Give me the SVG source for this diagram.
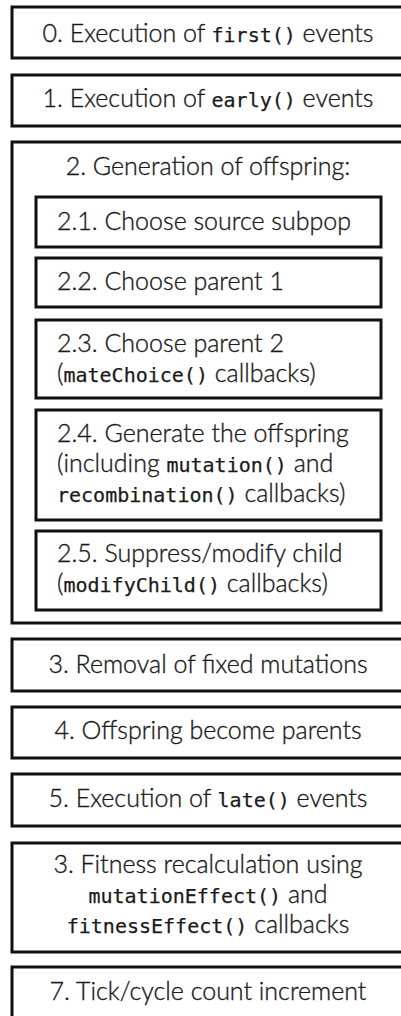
<svg xmlns="http://www.w3.org/2000/svg" width="401" height="1016" viewBox="0 0 401 1016">
<style>
rect{fill:#fff;stroke:#111;stroke-width:3}
text{font-family:Lato,"Open Sans",sans-serif;font-size:25px;font-weight:300;fill:#1a1a1a;stroke:#1a1a1a;stroke-width:0.35}
.c{text-anchor:middle}
.m{font-family:"DejaVu Sans Mono",monospace;font-size:20px;font-weight:400;stroke-width:0.25}
</style>
<rect x="0" y="0" width="401" height="1016" style="stroke:none"/>
<g id="n0"><rect x="12" y="7" width="394" height="51"/><text class="c" x="208" y="42">0. Execution of <tspan class="m">first()</tspan> events</text></g>
<g id="n1"><rect x="12" y="75" width="394" height="51"/><text class="c" x="208" y="107">1. Execution of <tspan class="m">early()</tspan> events</text></g>
<g id="n2"><rect x="12" y="142" width="394" height="481"/><text class="c" x="208" y="175">2. Generation of offspring:</text></g>
<g id="n21"><rect x="36" y="197" width="345" height="50"/><text x="57" y="230">2.1. Choose source subpop</text></g>
<g id="n22"><rect x="36" y="258" width="345" height="49"/><text x="57" y="290">2.2. Choose parent 1</text></g>
<g id="n23"><rect x="36" y="320" width="345" height="78"/><text x="57" y="352">2.3. Choose parent 2</text><text x="57" y="382">(<tspan class="m">mateChoice()</tspan> callbacks)</text></g>
<g id="n24"><rect x="36" y="410" width="345" height="110"/><text x="57" y="442">2.4. Generate the offspring</text><text x="57" y="472">(including <tspan class="m">mutation()</tspan> and</text><text x="57" y="502"><tspan class="m">recombination()</tspan> callbacks)</text></g>
<g id="n25"><rect x="36" y="531" width="345" height="79"/><text x="57" y="562">2.5. Suppress/modify child</text><text x="57" y="592">(<tspan class="m">modifyChild()</tspan> callbacks)</text></g>
<g id="n3"><rect x="12" y="639" width="394" height="52"/><text class="c" x="208" y="673">3. Removal of fixed mutations</text></g>
<g id="n4"><rect x="12" y="707" width="394" height="51"/><text class="c" x="208" y="739">4. Offspring become parents</text></g>
<g id="n5"><rect x="12" y="774" width="394" height="52"/><text class="c" x="208" y="807">5. Execution of <tspan class="m">late()</tspan> events</text></g>
<g id="n6"><rect x="12" y="843" width="394" height="109"/><text class="c" x="208" y="873">3. Fitness recalculation using</text><text class="c" x="208" y="903"><tspan class="m">mutationEffect()</tspan> and</text><text class="c" x="208" y="933"><tspan class="m">fitnessEffect()</tspan> callbacks</text></g>
<g id="n7"><rect x="12" y="967" width="394" height="60"/><text class="c" x="208" y="1000">7. Tick/cycle count increment</text></g>
<g id="connectors"></g>
</svg>
